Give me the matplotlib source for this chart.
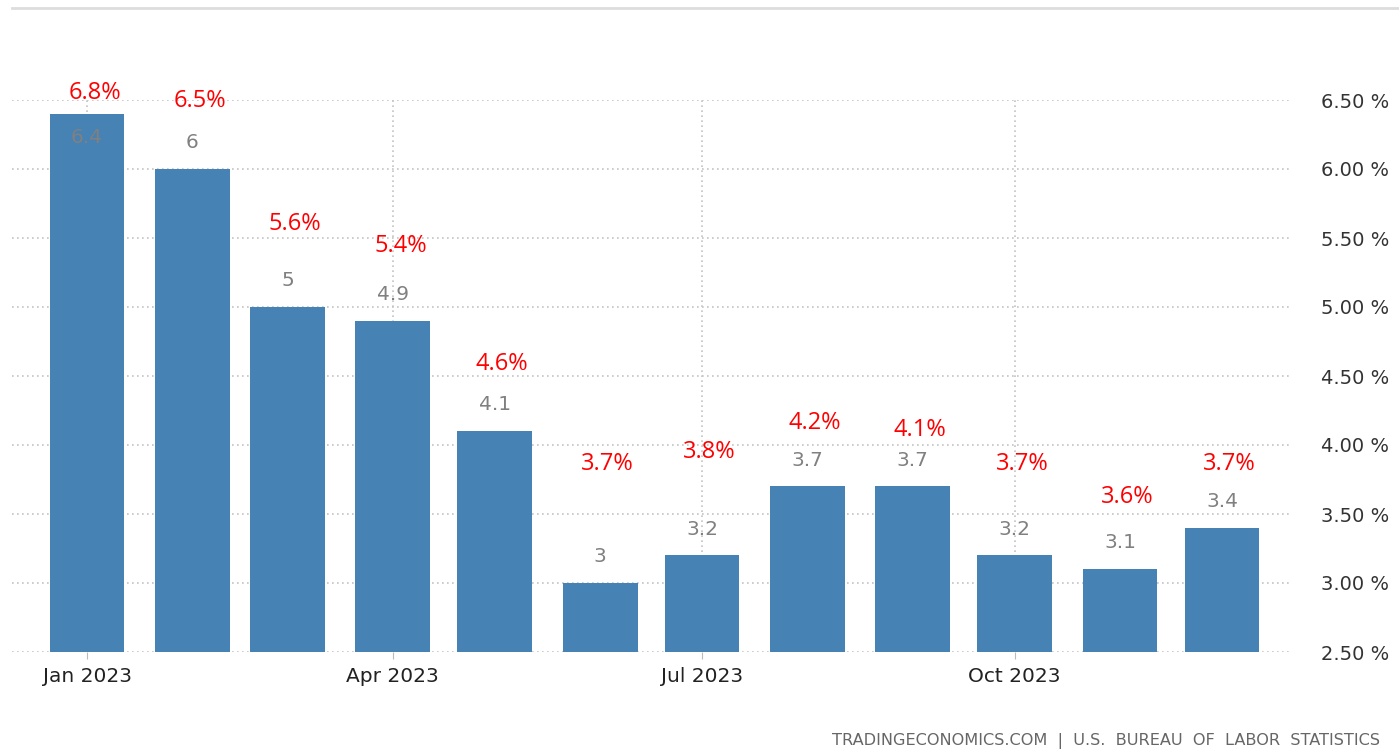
import matplotlib.pyplot as plt
import matplotlib.dates as mdates
import pandas as pd
from matplotlib.lines import Line2D

# ---------- data ----------
months = pd.date_range("2023-01-01", periods=12, freq="MS")
core_cpi = [6.4, 6.0, 5.0, 4.9, 4.1, 3.0, 3.2, 3.7, 3.7, 3.2, 3.1, 3.4]
bar_labels = ["6.4", "6", "5", "4.9", "4.1", "3", "3.2", "3.7", "3.7", "3.2", "3.1", "3.4"]
red_labels = ["6.8%", "6.5%", "5.6%", "5.4%", "4.6%", "3.7%",
              "3.8%", "4.2%", "4.1%", "3.7%", "3.6%", "3.7%"]
red_y = [6.55, 6.49, 5.60, 5.44, 4.59, 3.86, 3.95, 4.16, 4.11, 3.86, 3.62, 3.86]
yticks = [2.5, 3.0, 3.5, 4.0, 4.5, 5.0, 5.5, 6.0, 6.5]
xtick_months = ["2023-01-01", "2023-04-01", "2023-07-01", "2023-10-01"]

BLUE = "#4682b4"
GRID = "#c4c4c4"

fig = plt.figure(figsize=(13.99, 7.52), dpi=100)
ax = fig.add_axes([12 / 1399, 100 / 752, (1290 - 12) / 1399, 552 / 752])

xd = mdates.date2num(months)
ax.bar(xd, [v - 2.5 for v in core_cpi], bottom=2.5, width=22, color=BLUE, zorder=2)

ax.set_ylim(2.5, 6.5)
ax.set_xlim(xd[0] - 22.07, xd[0] + 354)

# grid
xt = mdates.date2num(pd.to_datetime(xtick_months))
for y in yticks:
    ax.axhline(y, color=GRID, lw=1.2, ls=(0, (1, 2)), zorder=1)
for t in xt:
    ax.axvline(t, color=GRID, lw=1.2, ls=(0, (1, 2)), zorder=1)

# axes styling
for s in ax.spines.values():
    s.set_visible(False)
ax.yaxis.tick_right()
ax.set_yticks(yticks)
ax.set_yticklabels([f"{v:.2f} %" for v in yticks], fontsize=14, color="#333333")
ax.tick_params(axis="y", length=0, pad=22)
ax.set_xticks(xt)
ax.set_xticklabels([pd.Timestamp(m).strftime("%b %Y") for m in xtick_months],
                   fontsize=14.5, color="#222222")
ax.tick_params(axis="x", length=5, color="#bbbbbb", pad=6)

# value labels (grey)
for xi, v, lab in zip(xd, core_cpi, bar_labels):
    off = -17 if v + 0.2 > 6.5 else 19
    ax.annotate(lab, (xi, v), xytext=(0, off), textcoords="offset points",
                ha="center", va="center", fontsize=14.5, color="#808080",
                zorder=3, annotation_clip=False)

# red annotations
for xi, lab, yy in zip(xd, red_labels, red_y):
    ax.text(xi + 2.2, yy, lab, ha="center", va="center", fontsize=17,
            color="#ff0000", family="Open Sans", clip_on=False, zorder=4)

# top rule and source
fig.add_artist(Line2D([12 / 1399, 1.0], [1 - 8 / 752, 1 - 8 / 752],
                      color="#dddddd", lw=2))
fig.text(1380 / 1399, 1 - 741 / 752,
         "TRADINGECONOMICS.COM  |  U.S.  BUREAU  OF  LABOR  STATISTICS",
         ha="right", va="center", fontsize=11.6, color="#666666")

fig.savefig("out.png", dpi=100)
